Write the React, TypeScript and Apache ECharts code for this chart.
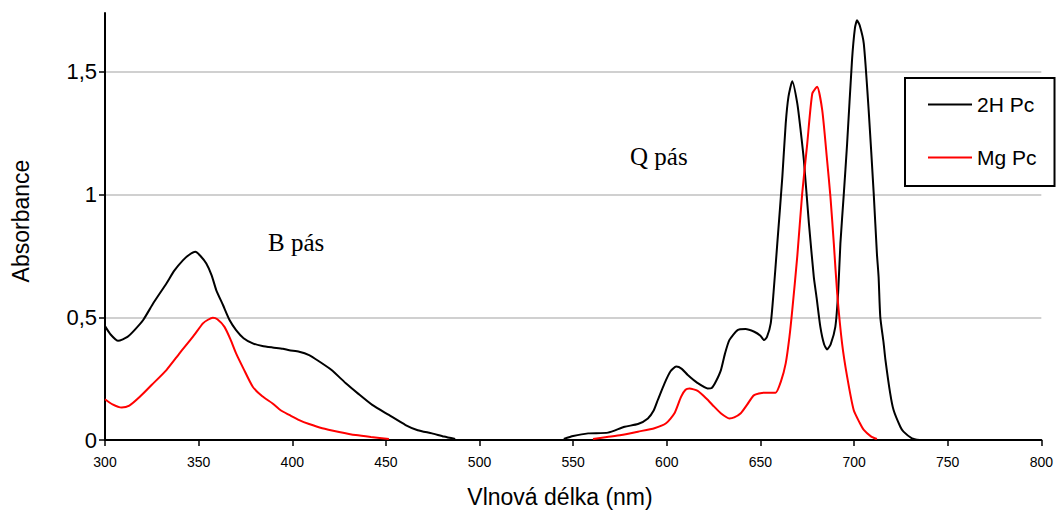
import React, { useEffect, useRef } from "react";
import * as echarts from "echarts";

// 2H Pc (black) — wavelength (nm) / absorbance, null = gap
const wl2H = [300, 303, 307, 312, 316, 320.4, 326, 332.8, 337, 341.7, 345, 348.2, 351, 354.1, 357, 359.4, 363, 366.5, 370, 374, 378.9, 384, 389.5, 395, 398.4, 403.7, 409, 414.4, 421, 428.6, 435, 442.7, 451.6, 460.5, 467, 474.6, 481, 487, 515, 545, 550, 558, 568.6, 577.5, 584.6, 589.9, 593, 595.2, 598.8, 602, 605, 608, 611.2, 616.5, 621.8, 624, 626, 628.9, 631, 633.4, 637.8, 642, 646.7, 650, 651.9, 653.5, 655.5, 657, 659, 661.7, 663.5, 665, 667, 669.7, 671.5, 673.2, 675.9, 678.5, 680, 682, 684, 685.6, 687.5, 690, 691.5, 692.7, 694.5, 696.3, 698.9, 700.5, 701.6, 703, 705.2, 707.8, 710.5, 712.2, 713.1, 714, 715.8, 716.7, 719.3, 721.1, 724.7, 726.4, 730.9, 735];
const abs2H = [0.464, 0.43, 0.404, 0.42, 0.45, 0.489, 0.56, 0.638, 0.69, 0.733, 0.755, 0.767, 0.75, 0.719, 0.67, 0.611, 0.55, 0.489, 0.448, 0.415, 0.394, 0.383, 0.377, 0.372, 0.366, 0.36, 0.346, 0.32, 0.285, 0.231, 0.19, 0.143, 0.102, 0.061, 0.04, 0.027, 0.014, 0.004, null, 0.004, 0.016, 0.027, 0.03, 0.054, 0.065, 0.088, 0.12, 0.163, 0.231, 0.28, 0.299, 0.29, 0.265, 0.232, 0.21, 0.212, 0.235, 0.285, 0.35, 0.407, 0.448, 0.452, 0.441, 0.425, 0.407, 0.42, 0.475, 0.6, 0.8, 1.072, 1.289, 1.4, 1.462, 1.371, 1.26, 1.14, 0.882, 0.665, 0.58, 0.461, 0.39, 0.369, 0.39, 0.461, 0.6, 0.8, 1.0, 1.208, 1.547, 1.68, 1.71, 1.69, 1.615, 1.344, 1.004, 0.76, 0.665, 0.502, 0.394, 0.33, 0.19, 0.122, 0.054, 0.034, 0.007, 0.0];

// Mg Pc (red)
const wlMg = [300, 304, 308.9, 313, 318.6, 325, 332.8, 340, 347, 352.3, 355, 357.6, 360, 363.8, 367, 370, 374, 378.9, 384, 389.5, 394, 398.4, 403.7, 409, 416, 425, 433.9, 442, 451.6, 500, 560.6, 568, 575.7, 584.6, 593.4, 599.6, 604.1, 607.6, 610, 612.1, 616.5, 621, 625.3, 629, 633.4, 636, 639.5, 643, 646.6, 651.9, 658.1, 661, 663.5, 665.5, 667, 669.7, 672.3, 675, 677.7, 680.3, 683, 685.6, 687.4, 689.2, 691, 693.6, 696.3, 699.8, 703, 705.2, 709, 712.2];
const absMg = [0.166, 0.145, 0.132, 0.14, 0.176, 0.225, 0.285, 0.355, 0.421, 0.475, 0.49, 0.498, 0.492, 0.461, 0.41, 0.353, 0.29, 0.217, 0.178, 0.149, 0.12, 0.102, 0.081, 0.065, 0.048, 0.033, 0.02, 0.012, 0.004, null, 0.004, 0.012, 0.02, 0.034, 0.048, 0.068, 0.109, 0.176, 0.205, 0.21, 0.2, 0.17, 0.136, 0.108, 0.088, 0.092, 0.109, 0.145, 0.183, 0.193, 0.193, 0.24, 0.312, 0.42, 0.529, 0.75, 1.004, 1.208, 1.412, 1.439, 1.344, 1.14, 0.99, 0.8, 0.597, 0.394, 0.258, 0.122, 0.07, 0.041, 0.015, 0.004];

const seriesNames = ["2H Pc", "Mg Pc"];
const yTicks = [0, 0.5, 1, 1.5];
const xTitle = "Vlnová délka (nm)";
const yTitle = "Absorbance";
const bandLabels = ["B pás", "Q pás"];

const zip = (xs: number[], ys: (number | null)[]) => xs.map((x, i) => [x, ys[i]]);

export default function App() {
  const ref = useRef<HTMLDivElement>(null);
  useEffect(() => {
    if (!ref.current) return;
    const chart = echarts.init(ref.current, undefined, { renderer: "svg" });
    const sans = "'Liberation Sans', Arial, sans-serif";
    const serif = "'Liberation Serif', 'Times New Roman', serif";
    chart.setOption({
      animation: false,
      backgroundColor: "#fff",
      grid: { left: 105, right: 11, top: 13, bottom: 73, containLabel: false },
      xAxis: {
        type: "value",
        min: 300,
        max: 800,
        interval: 50,
        axisLine: { show: true, lineStyle: { color: "#000", width: 2 } },
        axisTick: { show: true, length: 6, lineStyle: { color: "#000", width: 1.5 } },
        axisLabel: { color: "#000", fontSize: 14, fontFamily: sans, margin: 15 },
        splitLine: { show: false },
      },
      yAxis: {
        type: "value",
        min: 0,
        max: 1.74,
        interval: 0.5,
        axisLine: { show: true, lineStyle: { color: "#000", width: 2 } },
        axisTick: { show: true, length: 6, customValues: yTicks, lineStyle: { color: "#000", width: 1.5 } },
        axisLabel: {
          color: "#000",
          fontSize: 22,
          fontFamily: sans,
          margin: 8,
          customValues: yTicks,
          formatter: (v: number) => String(v).replace(".", ","),
        },
        splitLine: {
          show: true,
          lineStyle: { color: ["#c0c0c0", "#c0c0c0", "#c0c0c0", "#c0c0c0", "rgba(0,0,0,0)"], width: 1.5 },
        },
      },
      legend: {
        data: seriesNames,
        orient: "vertical",
        left: 905,
        top: 78,
        padding: [16, 18, 18, 23],
        itemGap: 32,
        itemWidth: 44,
        itemHeight: 2,
        icon: "rect",
        borderColor: "#000",
        borderWidth: 2,
        backgroundColor: "#fff",
        textStyle: { fontSize: 21, lineHeight: 21, color: "#000", fontFamily: sans },
      },
      series: [
        {
          name: seriesNames[0],
          type: "line",
          data: zip(wl2H, abs2H),
          symbol: "none",
          showSymbol: false,
          smooth: 0.2,
          connectNulls: false,
          lineStyle: { color: "#000", width: 2 },
          itemStyle: { color: "#000" },
          z: 3,
        },
        {
          name: seriesNames[1],
          type: "line",
          data: zip(wlMg, absMg),
          symbol: "none",
          showSymbol: false,
          smooth: 0.2,
          connectNulls: false,
          lineStyle: { color: "#ff0000", width: 2 },
          itemStyle: { color: "#ff0000" },
          z: 3,
        },
      ],
      graphic: [
        {
          type: "text",
          x: 560,
          y: 497,
          style: { text: xTitle, fontSize: 23, fontFamily: sans, fill: "#000", textAlign: "center", textVerticalAlign: "middle" },
        },
        {
          type: "text",
          x: 21,
          y: 221,
          rotation: Math.PI / 2,
          style: { text: yTitle, fontSize: 23, fontFamily: sans, fill: "#000", textAlign: "center", textVerticalAlign: "middle" },
        },
        {
          type: "text",
          x: 268,
          y: 242,
          style: { text: bandLabels[0], fontSize: 25, fontFamily: serif, fill: "#000", textAlign: "left", textVerticalAlign: "middle" },
        },
        {
          type: "text",
          x: 630,
          y: 156,
          style: { text: bandLabels[1], fontSize: 25, fontFamily: serif, fill: "#000", textAlign: "left", textVerticalAlign: "middle" },
        },
      ],
    });
    return () => chart.dispose();
  }, []);
  return <div ref={ref} style={{ position: "fixed", left: 0, top: 0, width: 1056, height: 513 }} />;
}
